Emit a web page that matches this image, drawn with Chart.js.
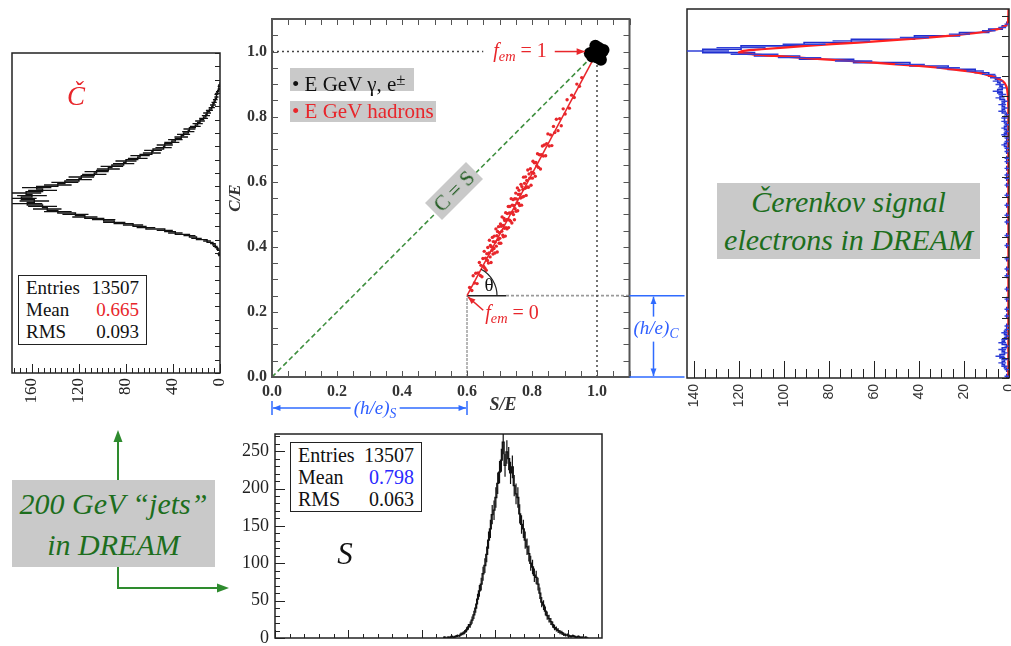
<!DOCTYPE html>
<html>
<head>
<meta charset="utf-8">
<script src="https://cdn.jsdelivr.net/npm/chart.js@4.4.1/dist/chart.umd.min.js"></script>
<style>
  body { margin: 0; background: #fff; }
  #page { position: relative; width: 1011px; height: 646px; overflow: hidden; font-family: 'Liberation Serif', serif; color: #111; }
  canvas, svg { position: absolute; }
  .note { position: absolute; line-height: 1; white-space: nowrap; transform: translate(-50%, -50%); }
  .stats { position: absolute; border: 1.5px solid #222; background: #fff; box-sizing: border-box; line-height: 22px; padding: 1px 7px; }
  .stats div { display: flex; justify-content: space-between; }
  .gbox { position: absolute; background: #c9c9c9; white-space: nowrap; }
  .sub { font-size: 0.72em; vertical-align: -0.3em; }
  .sup { font-size: 0.8em; vertical-align: 0.35em; }
</style>
</head>
<body>
<div id="page">
  <canvas id="cHist" width="235" height="380" style="left:0px;top:40px"></canvas>
  <canvas id="plane" width="465" height="420" style="left:225px;top:0px"></canvas>
  <canvas id="eHist" width="336" height="420" style="left:675px;top:0px"></canvas>
  <canvas id="sHist" width="390" height="221" style="left:225px;top:425px"></canvas>

  <!-- left panel labels -->
  <div class="note" style="left:76px;top:96px;font-size:27px;font-style:italic;color:#e8262b">Č</div>
  <div class="stats" style="left:18px;top:275px;width:129px;height:70px;font-size:19px">
    <div><span>Entries</span><span>13507</span></div>
    <div><span>Mean</span><span style="color:#e8262b">0.665</span></div>
    <div><span>RMS</span><span>0.093</span></div>
  </div>

  <!-- central plane labels -->
  <div class="gbox" style="left:290px;top:68px;width:124px;height:23px;line-height:23px;font-size:21px;padding-left:2px;box-sizing:border-box">• E GeV γ, e<span class="sup">±</span></div>
  <div class="gbox" style="left:290px;top:101px;width:146px;height:21px;line-height:21px;font-size:21px;padding-left:2px;box-sizing:border-box;color:#e8262b">• E GeV hadrons</div>
  <div class="gbox" style="left:454px;top:191px;width:58px;height:24px;line-height:24px;font-size:21px;text-align:center;color:#1f5a1f;transform:translate(-50%,-50%) rotate(-45deg)">C = S</div>
  <div class="note" style="left:520px;top:52px;font-size:20px;color:#e8262b"><i>f</i><span class="sub"><i>em</i></span> = 1</div>
  <div class="note" style="left:512px;top:314px;font-size:20px;color:#e8262b"><i>f</i><span class="sub"><i>em</i></span> = 0</div>
  <div class="note" style="left:489px;top:284px;font-size:19px">θ</div>
  <div class="note" style="left:503px;top:404px;font-size:18px;font-style:italic;font-weight:bold;color:#333">S/E</div>
  <div class="note" style="left:375px;top:409px;font-size:19px;font-style:italic;color:#2f5fff;background:#fff;padding:0 3px">(h/e)<span class="sub">S</span></div>
  <div class="note" style="left:656px;top:329px;font-size:19px;font-style:italic;color:#2f5fff;background:#fff;padding:1px 0">(h/e)<span class="sub">C</span></div>

  <!-- right panel label -->
  <div class="gbox" style="left:717px;top:183px;width:263px;height:76px;line-height:38px;font-size:30px;font-style:italic;color:#1d6e1d;text-align:center">Čerenkov signal<br>electrons in DREAM</div>

  <!-- bottom panel labels -->
  <div class="stats" style="left:290px;top:442px;width:132px;height:70px;font-size:20px">
    <div><span>Entries</span><span>13507</span></div>
    <div><span>Mean</span><span style="color:#2a2aff">0.798</span></div>
    <div><span>RMS</span><span>0.063</span></div>
  </div>
  <div class="note" style="left:345px;top:553px;font-size:31px;font-style:italic">S</div>

  <div class="gbox" style="left:12px;top:480px;width:203px;height:87px;padding-top:3px;box-sizing:border-box;line-height:41px;font-size:30px;font-style:italic;color:#1d6e1d;text-align:center">200 GeV “jets”<br>in DREAM</div>

  <svg width="1011" height="646" style="left:0;top:0;pointer-events:none">
    <g stroke="#2e8b2e" stroke-width="2" fill="none">
      <line x1="118" y1="480" x2="118" y2="440"/>
      <polyline points="118,567 118,588 219,588"/>
    </g>
    <g fill="#2e8b2e">
      <polygon points="118,430 113.5,442 122.5,442"/>
      <polygon points="229,588 217,583.5 217,592.5"/>
    </g>
  </svg>
</div>

<script>
// ---- C/E histogram (left, rotated) ----
const cBinStart = 0.44;
const cBinWidth = 0.01;
const cCounts = [1, 0, 2, 4, 6, 11, 20, 26, 38, 47, 63, 74, 90, 99, 115, 123, 138, 147, 151, 164,
  158, 169, 160, 165, 151, 156, 138, 132, 120, 118, 107, 105, 95, 92, 82, 80, 70, 68, 58, 57,
  48, 47, 41, 38, 33, 31, 27, 26, 21, 19, 17, 14, 12, 11, 9, 7, 6, 5, 4, 3, 3, 2, 1, 1, 0];
const cTickVals = [0, 40, 80, 120, 160];
const cTickLabels = ['0', '40', '80', '120', '160'];

// ---- S/E vs C/E plane (centre) ----
const heS = 0.6;   // (h/e)_S
const heC = 0.25;  // (h/e)_C
const planeTickVals = [0, 0.2, 0.4, 0.6, 0.8, 1.0];
const planeTickLabels = ['0.0', '0.2', '0.4', '0.6', '0.8', '1.0'];
const diagS = [0, 0.97];
const diagC = [0, 0.97];
const fitLineS = [heS, 0.985];
const fitLineC = [heC, 0.97];
const emS = [0.99, 1.005, 1.015, 0.985, 1.0, 1.012, 0.995, 0.978, 1.02];
const emC = [1.0, 1.012, 0.998, 0.985, 0.982, 0.975, 1.018, 0.995, 1.005];
const hadronS = [0.608,0.615,0.619,0.623,0.627,0.631,0.634,0.638,0.641,0.643,
  0.646,0.649,0.651,0.653,0.655,0.657,0.659,0.661,0.663,0.664,
  0.666,0.668,0.669,0.671,0.672,0.674,0.675,0.677,0.678,0.680,
  0.681,0.683,0.684,0.686,0.687,0.689,0.690,0.692,0.693,0.694,
  0.696,0.697,0.699,0.700,0.701,0.703,0.704,0.705,0.707,0.708,
  0.710,0.711,0.712,0.714,0.715,0.716,0.718,0.719,0.720,0.722,
  0.723,0.724,0.726,0.727,0.728,0.730,0.731,0.732,0.734,0.735,
  0.736,0.738,0.739,0.740,0.742,0.743,0.744,0.746,0.747,0.748,
  0.750,0.751,0.752,0.754,0.755,0.756,0.758,0.759,0.760,0.762,
  0.763,0.765,0.766,0.768,0.769,0.771,0.772,0.774,0.775,0.777,
  0.779,0.780,0.782,0.784,0.785,0.787,0.789,0.791,0.793,0.795,
  0.797,0.799,0.801,0.803,0.805,0.807,0.810,0.812,0.815,0.817,
  0.820,0.823,0.826,0.829,0.832,0.835,0.838,0.842,0.845,0.849,
  0.853,0.857,0.861,0.866,0.870,0.875,0.880,0.885,0.890,0.896,
  0.902,0.908,0.915,0.922,0.930,0.938,0.946,0.953];
const hadronC = [0.275,0.266,0.311,0.289,0.319,0.287,0.320,0.352,0.312,0.343,
  0.308,0.364,0.340,0.386,0.334,0.365,0.328,0.379,0.358,0.398,
  0.350,0.381,0.420,0.369,0.404,0.352,0.400,0.389,0.429,0.378,
  0.416,0.395,0.433,0.381,0.415,0.455,0.402,0.434,0.384,0.447,
  0.422,0.462,0.411,0.443,0.426,0.470,0.411,0.463,0.448,0.492,
  0.436,0.466,0.431,0.487,0.457,0.481,0.433,0.505,0.459,0.483,
  0.455,0.502,0.484,0.524,0.459,0.504,0.482,0.524,0.479,0.504,
  0.548,0.473,0.528,0.506,0.545,0.499,0.527,0.483,0.548,0.517,
  0.565,0.509,0.547,0.535,0.581,0.511,0.561,0.533,0.574,0.527,
  0.562,0.550,0.592,0.528,0.585,0.553,0.576,0.614,0.555,0.595,
  0.580,0.615,0.558,0.604,0.584,0.636,0.583,0.624,0.611,0.640,
  0.589,0.629,0.611,0.663,0.626,0.658,0.617,0.659,0.649,0.686,
  0.644,0.683,0.639,0.683,0.710,0.679,0.713,0.680,0.717,0.747,
  0.710,0.744,0.711,0.770,0.751,0.792,0.757,0.794,0.772,0.824,
  0.808,0.852,0.826,0.866,0.859,0.900,0.893,0.920];

// ---- Cerenkov signal for electrons (right, rotated) ----
const eBinStart = 0.0;
const eBinWidth = 0.01;
const eCounts = [1, 0, 1, 2,
  3, 2, 4, 2, 3, 1, 3, 2, 1, 2, 1,
  1, 0, 0, 1, 0, 1, 0, 0, 1, 0, 0, 1, 0, 0, 0, 1, 0, 1, 0, 0,
  1, 0, 0, 0, 1, 0, 0, 1, 0, 0, 0, 1, 0, 1, 0, 0, 1, 0, 0, 1,
  0, 0, 1, 0, 1, 1, 0, 1, 0, 1, 1, 0, 1, 1, 2, 1, 1, 2, 1, 2,
  1, 2, 2, 1, 3,
  2, 3, 2, 4, 3, 5, 3, 4, 5, 6,
  9, 15, 27, 44, 69, 93, 113, 136, 119, 91, 70, 42, 22, 9, 3, 1, 0];
const eFitV = [0, 0.80, 0.86, 0.88, 0.89, 0.90, 0.91, 0.92, 0.93, 0.94, 0.95, 0.96, 0.965, 0.97,
  0.975, 0.98, 0.99, 1.00, 1.01, 1.02, 1.03, 1.04, 1.05, 1.06, 1.1];
const eFitCounts = [0.3, 0.3, 0.8, 2, 4, 8, 14, 25, 40, 60, 82, 104, 114, 120,
  118, 110, 90, 67, 45, 27, 13, 5, 1.5, 0.5, 0.2];
const eTickVals = [0, 20, 40, 60, 80, 100, 120, 140];
const eTickLabels = ['0', '20', '40', '60', '80', '100', '120', '140'];

// ---- S/E histogram (bottom) ----
const sBinStart = 0.66;
const sBinWidth = 0.005;
const sCounts = [1, 0, 1, 1, 2, 1, 2, 3, 3, 5,
  6, 8, 11, 15, 18, 24, 31, 40, 52, 63,
  72, 86, 97, 112, 131, 146, 165, 171, 188, 207,
  222, 238, 262, 231, 249, 240, 221, 229, 204, 193,
  188, 166, 152, 146, 131, 122, 113, 100, 95, 84,
  81, 72, 60, 48, 44, 36, 30, 26, 22, 18,
  14, 12, 10, 8, 7, 5, 4, 4, 3, 2,
  3, 2, 1, 2, 1, 1, 0, 1, 0];
const sTickVals = [0, 50, 100, 150, 200, 250];
const sTickLabels = ['0', '50', '100', '150', '200', '250'];

Chart.defaults.font.family = "'Liberation Serif', serif";
Chart.defaults.color = '#222';

function zip(xs, ys) {
  return xs.map((v, i) => ({ x: v, y: ys[i] }));
}

// outline of a histogram as step points (rotated = counts on the x axis)
function histPoints(start, width, counts, rotated) {
  const pts = [rotated ? { x: 0, y: start } : { x: start, y: 0 }];
  counts.forEach((c, i) => {
    const edge = start + i * width;
    pts.push(rotated ? { x: c, y: edge } : { x: edge, y: c });
  });
  const end = start + counts.length * width;
  pts.push(rotated ? { x: 0, y: end } : { x: end, y: 0 });
  return pts;
}

function fixedTicks(vals) {
  return scale => { scale.ticks = vals.map(v => ({ value: v })); };
}

// frame round the plot area plus inward tick marks, ROOT style
const frameTicks = {
  id: 'frameTicks',
  afterDatasetsDraw(chart, args, o) {
    const { ctx, chartArea: a, scales } = chart;
    ctx.save();
    ctx.strokeStyle = o.color;
    ctx.lineWidth = o.width;
    ctx.strokeRect(a.left, a.top, a.right - a.left, a.bottom - a.top);
    ctx.lineWidth = 1;
    ctx.beginPath();
    o.marks.forEach(m => {
      const sc = scales[m.axis];
      const n = Math.round((m.to - m.from) / m.step);
      for (let i = 0; i <= n; i++) {
        const p = Math.round(sc.getPixelForValue(m.from + i * m.step)) + 0.5;
        m.sides.forEach(side => {
          if (side === 'bottom') { ctx.moveTo(p, a.bottom); ctx.lineTo(p, a.bottom - m.len); }
          if (side === 'top') { ctx.moveTo(p, a.top); ctx.lineTo(p, a.top + m.len); }
          if (side === 'left') { ctx.moveTo(a.left, p); ctx.lineTo(a.left + m.len, p); }
          if (side === 'right') { ctx.moveTo(a.right, p); ctx.lineTo(a.right - m.len, p); }
        });
      }
    });
    ctx.stroke();
    ctx.restore();
  }
};

// statistical error bars (sqrt N) on each histogram bin
const errorBars = {
  id: 'errorBars',
  afterDatasetsDraw(chart, args, o) {
    const { ctx, chartArea: a, scales: { x, y } } = chart;
    ctx.save();
    ctx.beginPath();
    ctx.rect(a.left, a.top, a.right - a.left, a.bottom - a.top);
    ctx.clip();
    ctx.strokeStyle = o.color;
    ctx.lineWidth = o.width;
    ctx.beginPath();
    o.counts.forEach((c, i) => {
      if (!c) return;
      const mid = o.start + (i + 0.5) * o.binWidth;
      const e = Math.sqrt(c);
      if (o.horizontal) {
        const py = y.getPixelForValue(mid);
        ctx.moveTo(x.getPixelForValue(c - e), py);
        ctx.lineTo(x.getPixelForValue(c + e), py);
      } else {
        const px = x.getPixelForValue(mid);
        ctx.moveTo(px, y.getPixelForValue(c - e));
        ctx.lineTo(px, y.getPixelForValue(c + e));
      }
    });
    ctx.stroke();
    ctx.restore();
  }
};

function arrowHead(ctx, x1, y1, x2, y2, size) {
  const ang = Math.atan2(y2 - y1, x2 - x1);
  ctx.beginPath();
  ctx.moveTo(x2, y2);
  ctx.lineTo(x2 - size * Math.cos(ang - 0.38), y2 - size * Math.sin(ang - 0.38));
  ctx.lineTo(x2 - size * Math.cos(ang + 0.38), y2 - size * Math.sin(ang + 0.38));
  ctx.closePath();
  ctx.fill();
}

function arrow(ctx, x1, y1, x2, y2, size) {
  ctx.beginPath();
  ctx.moveTo(x1, y1);
  ctx.lineTo(x2, y2);
  ctx.stroke();
  arrowHead(ctx, x1, y1, x2, y2, size);
}

// theta arc, f_em arrows and the (h/e) dimension marks
const planeNotes = {
  id: 'planeNotes',
  afterDatasetsDraw(chart) {
    const { ctx, chartArea: a, scales: { x, y } } = chart;
    ctx.save();

    const cx = x.getPixelForValue(heS), cy = y.getPixelForValue(heC);
    const ang = Math.atan2(y.getPixelForValue(fitLineC[1]) - cy, x.getPixelForValue(fitLineS[1]) - cx);
    ctx.strokeStyle = '#222';
    ctx.lineWidth = 1.2;
    ctx.beginPath();
    ctx.arc(cx, cy, 30, ang, 0);
    ctx.stroke();

    ctx.strokeStyle = '#e8262b';
    ctx.fillStyle = '#e8262b';
    ctx.lineWidth = 1.5;
    arrow(ctx, x.getPixelForValue(0.87), y.getPixelForValue(1.0), x.getPixelForValue(0.963), y.getPixelForValue(1.0), 9);
    arrow(ctx, x.getPixelForValue(0.65), y.getPixelForValue(0.205), x.getPixelForValue(0.603), y.getPixelForValue(0.246), 8);

    const blue = '#2f6bff';
    ctx.strokeStyle = blue;
    ctx.fillStyle = blue;
    ctx.lineWidth = 1.5;
    // (h/e)_S along the bottom
    const x0 = x.getPixelForValue(0), x1 = x.getPixelForValue(heS), yy = a.bottom + 31;
    ctx.beginPath();
    ctx.moveTo(x0, yy - 7); ctx.lineTo(x0, yy + 7);
    ctx.moveTo(x1, yy - 7); ctx.lineTo(x1, yy + 7);
    ctx.stroke();
    arrow(ctx, (x0 + x1) / 2, yy, x0 + 1, yy, 8);
    arrow(ctx, (x0 + x1) / 2, yy, x1 - 1, yy, 8);
    // (h/e)_C on the right
    const y0 = y.getPixelForValue(0), y1 = y.getPixelForValue(heC), xx = a.right + 24;
    ctx.beginPath();
    ctx.moveTo(a.right, y0); ctx.lineTo(a.right + 55, y0);
    ctx.moveTo(a.right, y1); ctx.lineTo(a.right + 55, y1);
    ctx.stroke();
    arrow(ctx, xx, (y0 + y1) / 2, xx, y1 + 1, 8);
    arrow(ctx, xx, (y0 + y1) / 2, xx, y0 - 1, 8);
    ctx.restore();
  }
};

// ---------- left: C/E histogram ----------
new Chart(document.getElementById('cHist'), {
  type: 'line',
  data: {
    datasets: [{
      data: histPoints(cBinStart, cBinWidth, cCounts, true),
      stepped: 'after',
      borderColor: '#111',
      borderWidth: 1.4,
      pointRadius: 0
    }]
  },
  options: {
    responsive: false,
    animation: false,
    layout: { padding: { left: 12, right: 15, top: 13, bottom: 0 } },
    plugins: {
      legend: { display: false },
      tooltip: { enabled: false },
      frameTicks: {
        color: '#222', width: 1.5,
        marks: [
          { axis: 'x', from: 0, to: 175, step: 5, len: 5, sides: ['bottom'] },
          { axis: 'x', from: 0, to: 160, step: 40, len: 9, sides: ['bottom'] },
          { axis: 'y', from: 0, to: 1.2, step: 0.05, len: 5, sides: ['right'] }
        ]
      },
      errorBars: { counts: cCounts, start: cBinStart, binWidth: cBinWidth, horizontal: true, color: '#111', width: 1.4 }
    },
    scales: {
      x: {
        type: 'linear', reverse: true, min: 0, max: 177,
        afterBuildTicks: fixedTicks(cTickVals),
        afterFit: s => { s.height = 47; s.paddingLeft = 0; s.paddingRight = 0; },
        grid: { display: false, drawTicks: false },
        border: { display: false },
        ticks: { autoSkip: false, minRotation: 90, maxRotation: 90, padding: 5, font: { size: 17 },
          callback: (v, i) => cTickLabels[i] }
      },
      y: { type: 'linear', display: false, min: 0, max: 1.2 }
    }
  },
  plugins: [frameTicks, errorBars]
});

// ---------- centre: C/E vs S/E ----------
const lineStyle = { showLine: true, pointRadius: 0, fill: false };
new Chart(document.getElementById('plane'), {
  type: 'scatter',
  data: {
    datasets: [
      { data: zip(hadronS, hadronC), pointRadius: 1.7, pointBackgroundColor: '#e8262b', pointBorderWidth: 0, order: 0 },
      { data: zip(emS, emC), pointRadius: 6, pointBackgroundColor: '#000', pointBorderWidth: 0, order: 0 },
      { ...lineStyle, data: zip(diagS, diagC), borderColor: '#3f8f3f', borderWidth: 1.6, borderDash: [5, 3], order: 2 },
      { ...lineStyle, data: zip(fitLineS, fitLineC), borderColor: '#e8262b', borderWidth: 1.5, order: 1 },
      { ...lineStyle, data: zip([0, 0.65], [1.0, 1.0]), borderColor: '#444', borderWidth: 1.5, borderDash: [2, 3], order: 3 },
      { ...lineStyle, data: zip([1.0, 1.0], [0, 0.965]), borderColor: '#444', borderWidth: 1.5, borderDash: [2, 3], order: 3 },
      { ...lineStyle, data: zip([0.72, 1.1], [heC, heC]), borderColor: '#9a9a9a', borderWidth: 1.6, borderDash: [3, 2], order: 3 },
      { ...lineStyle, data: zip([heS, heS], [0, heC]), borderColor: '#a5a5a5', borderWidth: 1.6, borderDash: [3, 1], order: 3 },
      { ...lineStyle, data: zip([heS, 0.72], [heC, heC]), borderColor: '#222', borderWidth: 1.5, order: 2 }
    ]
  },
  options: {
    responsive: false,
    animation: false,
    layout: { padding: { left: 0, right: 60.5, top: 19, bottom: 0 } },
    plugins: {
      legend: { display: false },
      tooltip: { enabled: false },
      frameTicks: {
        color: '#555', width: 2,
        marks: [
          { axis: 'x', from: 0, to: 1.1, step: 0.05, len: 6, sides: ['bottom', 'top'] },
          { axis: 'y', from: 0, to: 1.1, step: 0.05, len: 6, sides: ['left', 'right'] }
        ]
      }
    },
    scales: {
      x: {
        type: 'linear', min: 0, max: 1.1,
        afterBuildTicks: fixedTicks(planeTickVals),
        afterFit: s => { s.height = 43; s.paddingLeft = 0; s.paddingRight = 0; },
        grid: { display: false, drawTicks: false },
        border: { display: false },
        ticks: { autoSkip: false, maxRotation: 0, padding: 5, color: '#333',
          font: { size: 16, weight: 'bold' }, callback: (v, i) => planeTickLabels[i] }
      },
      y: {
        type: 'linear', min: 0, max: 1.1,
        afterBuildTicks: fixedTicks(planeTickVals),
        afterFit: s => { s.width = 47; s.paddingTop = 0; s.paddingBottom = 0; },
        grid: { display: false, drawTicks: false },
        border: { display: false },
        title: { display: true, text: 'C/E', color: '#333', padding: { top: 0, bottom: 0 },
          font: { size: 17, style: 'italic', weight: 'bold' } },
        ticks: { autoSkip: false, padding: 5, color: '#333',
          font: { size: 16, weight: 'bold' }, callback: (v, i) => planeTickLabels[i] }
      }
    }
  },
  plugins: [frameTicks, planeNotes]
});

// ---------- right: Cerenkov signal, electrons ----------
new Chart(document.getElementById('eHist'), {
  type: 'line',
  data: {
    datasets: [
      { data: zip(eFitCounts, eFitV), borderColor: '#ff2020', borderWidth: 2.2, pointRadius: 0, tension: 0.25, order: 0 },
      { data: histPoints(eBinStart, eBinWidth, eCounts, true), stepped: 'after', borderColor: '#1f2fcf', borderWidth: 1.6, pointRadius: 0, order: 1 }
    ]
  },
  options: {
    responsive: false,
    animation: false,
    layout: { padding: { left: 12, right: 2, top: 9, bottom: 0 } },
    plugins: {
      legend: { display: false },
      tooltip: { enabled: false },
      frameTicks: {
        color: '#222', width: 1.5,
        marks: [
          { axis: 'x', from: 0, to: 140, step: 5, len: 9, sides: ['bottom'] },
          { axis: 'x', from: 0, to: 140, step: 20, len: 17, sides: ['bottom'] },
          { axis: 'y', from: 0, to: 1.08, step: 0.06, len: 7, sides: ['right'] }
        ]
      },
      errorBars: { counts: eCounts, start: eBinStart, binWidth: eBinWidth, horizontal: true, color: '#3040d8', width: 1.4 }
    },
    scales: {
      x: {
        type: 'linear', reverse: true, min: 0, max: 143,
        afterBuildTicks: fixedTicks(eTickVals),
        afterFit: s => { s.height = 42; s.paddingLeft = 0; s.paddingRight = 0; },
        grid: { display: false, drawTicks: false },
        border: { display: false },
        ticks: { autoSkip: false, minRotation: 90, maxRotation: 90, padding: 6, color: '#333',
          font: { family: "'Liberation Sans', sans-serif", size: 14 }, callback: (v, i) => eTickLabels[i] }
      },
      y: { type: 'linear', display: false, min: 0, max: 1.1 }
    }
  },
  plugins: [frameTicks, errorBars]
});

// ---------- bottom: S/E histogram ----------
new Chart(document.getElementById('sHist'), {
  type: 'line',
  data: {
    datasets: [{
      data: histPoints(sBinStart, sBinWidth, sCounts, false),
      stepped: 'before',
      borderColor: '#111',
      borderWidth: 1.3,
      pointRadius: 0
    }]
  },
  options: {
    responsive: false,
    animation: false,
    layout: { padding: { left: 0, right: 13, top: 9, bottom: 8 } },
    plugins: {
      legend: { display: false },
      tooltip: { enabled: false },
      frameTicks: {
        color: '#222', width: 1.5,
        marks: [
          { axis: 'y', from: 0, to: 270, step: 10, len: 5, sides: ['left'] },
          { axis: 'y', from: 0, to: 250, step: 50, len: 10, sides: ['left'] },
          { axis: 'x', from: 0.2, to: 1.08, step: 0.04, len: 4, sides: ['bottom'] },
          { axis: 'x', from: 0.2, to: 1.0, step: 0.2, len: 8, sides: ['bottom'] }
        ]
      },
      errorBars: { counts: sCounts, start: sBinStart, binWidth: sBinWidth, horizontal: false, color: '#111', width: 1.2 }
    },
    scales: {
      x: { type: 'linear', display: false, min: 0.2, max: 1.092 },
      y: {
        type: 'linear', min: 0, max: 273,
        afterBuildTicks: fixedTicks(sTickVals),
        afterFit: s => { s.width = 50; s.paddingTop = 0; s.paddingBottom = 0; },
        grid: { display: false, drawTicks: false },
        border: { display: false },
        ticks: { autoSkip: false, padding: 6, font: { size: 18 }, callback: (v, i) => sTickLabels[i] }
      }
    }
  },
  plugins: [frameTicks, errorBars]
});
</script>
</body>
</html>
